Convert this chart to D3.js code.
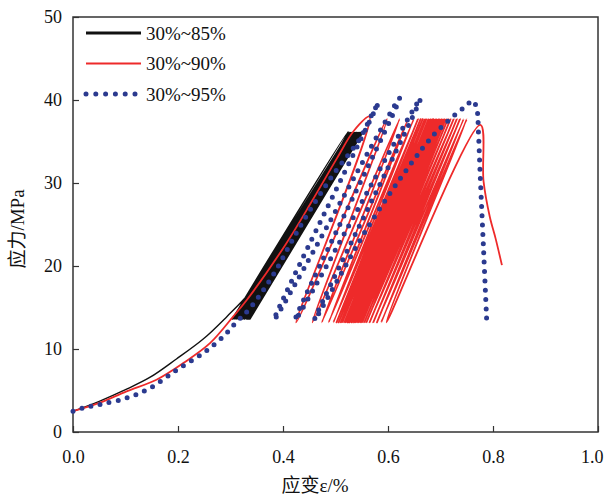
<!DOCTYPE html>
<html>
<head>
<meta charset="utf-8">
<script src="https://cdn.jsdelivr.net/npm/d3@7"></script>
<style>
    body { margin: 0; background: #fff; }
    text { font-family: "Liberation Serif", "Noto Sans CJK SC", serif; }
</style>
</head>
<body>
<svg id="chart"></svg>
<script>

// Axis ticks
const xTicks = [0, 0.2, 0.4, 0.6, 0.8, 1.0];
const yTicks = [0, 10, 20, 30, 40, 50];

// Series names (legend)
const seriesNames = ["30%~85%", "30%~90%", "30%~95%"];

// 30%~85% : first loading, then cycles between lower / upper stress
const blackLoad = [[0, 2.5], [0.05, 3.7], [0.1, 5.1], [0.147, 6.6], [0.197, 8.8], [0.248, 11.2],
    [0.293, 13.9], [0.337, 16.8], [0.4, 22.3], [0.451, 27.5], [0.496, 32.8], [0.524, 36.2]];
const blackValleys = [0.303, 0.305, 0.307, 0.308, 0.31, 0.312, 0.313, 0.315, 0.316, 0.318, 0.32, 0.321,
    0.323, 0.324, 0.326, 0.328, 0.329, 0.331, 0.332, 0.334, 0.336, 0.337];
const blackPeaks = [0.526, 0.527, 0.529, 0.53, 0.532, 0.533, 0.534, 0.536, 0.537, 0.538, 0.54, 0.541,
    0.542, 0.543, 0.545, 0.546, 0.547, 0.548, 0.549, 0.55, 0.551, 0.552];
const blackLow = 13.6;
const blackHigh = 36.1;

// 30%~90%
const redLoad = [[0, 2.5], [0.05, 3.5], [0.102, 4.9], [0.159, 6.3], [0.21, 8.3], [0.261, 10.7],
    [0.305, 13.9], [0.331, 15.9], [0.405, 22.6], [0.455, 27.8], [0.503, 33], [0.535, 36.3], [0.565, 38]];
const redValleys = [0.425, 0.456, 0.474, 0.487, 0.496, 0.502, 0.506, 0.51, 0.513, 0.517, 0.52, 0.523,
    0.526, 0.528, 0.531, 0.534, 0.537, 0.539, 0.542, 0.545, 0.548, 0.551, 0.555, 0.559, 0.565, 0.572,
    0.579, 0.587, 0.597];
const redPeaks = [0.598, 0.622, 0.638, 0.649, 0.657, 0.662, 0.666, 0.67, 0.673, 0.677, 0.68, 0.683,
    0.686, 0.689, 0.692, 0.695, 0.698, 0.701, 0.704, 0.707, 0.71, 0.714, 0.719, 0.725, 0.731, 0.737,
    0.744, 0.75];
const redLow = 13.2;
const redHigh = 37.7;
const redFail = [[0.776, 37.0], [0.782, 30.2], [0.794, 25.9], [0.805, 23.3], [0.817, 20.1]];

// 30%~95% (few cycles, read point by point)
const blueCurve = [[0, 2.5], [0.02, 2.9], [0.051, 3.3], [0.102, 4.1], [0.147, 5.3], [0.198, 7.5],
    [0.248, 9.5], [0.286, 11.5], [0.312, 13.3], [0.337, 14.9], [0.38, 18.8], [0.432, 24.7], [0.49, 30.5],
    [0.547, 35.4], [0.569, 38.2], [0.582, 39.7],
    [0.383, 13.5], [0.622, 40.2], [0.423, 13.5], [0.662, 40.2], [0.46, 13.5],
    [0.56, 24.5], [0.64, 32], [0.687, 35.8], [0.72, 37.8], [0.747, 39.2], [0.762, 39.9],
    [0.77, 38.6], [0.772, 36.5], [0.776, 30.4], [0.782, 22], [0.788, 13.4]];

const colors = ["#111111", "#ee2a2a", "#2b3a8f"];

const W = 604, H = 495;
const margin = {left: 73, right: 6, top: 17, bottom: 63};

const svg = d3.select("#chart").attr("width", W).attr("height", H);

const x = d3.scaleLinear().domain([0, 1]).range([margin.left, W - margin.right]);
const y = d3.scaleLinear().domain([0, 50]).range([H - margin.bottom, margin.top]);

// Build cyclic point sequences
function cycles(load, valleys, peaks, lo, hi, tail) {
    const pts = load.slice();
    valleys.forEach((v, i) => {
        pts.push([v, lo]);
        if (i < peaks.length) pts.push([peaks[i], hi]);
    });
    return tail ? pts.concat(tail) : pts;
}

const blackPts = cycles(blackLoad, blackValleys, blackPeaks, blackLow, blackHigh);
const redPts = cycles(redLoad, redValleys, redPeaks, redLow, redHigh, redFail);

const line = d3.line()
    .x(d => x(d[0]))
    .y(d => y(d[1]))
    .curve(d3.curveCatmullRom.alpha(0.5));

// Axes (ticks inside)
const xAxis = svg.append("g")
    .attr("transform", `translate(0,${y(0)})`)
    .call(d3.axisBottom(x).tickValues(xTicks).tickFormat(d3.format(".1f"))
        .tickSizeInner(-6).tickSizeOuter(0).tickPadding(18));
const yAxis = svg.append("g")
    .attr("transform", `translate(${x(0)},0)`)
    .call(d3.axisLeft(y).tickValues(yTicks).tickFormat(d3.format("d"))
        .tickSizeInner(-6).tickSizeOuter(0).tickPadding(11));

[xAxis, yAxis].forEach(g => {
    g.select(".domain").remove();
    g.selectAll("line").attr("stroke", "#333").attr("stroke-width", 1.2);
    g.selectAll("text").attr("font-size", 18).attr("fill", "#111")
        .style("font-family", "'Liberation Serif', serif");
});
// last x label sits against the right edge
xAxis.selectAll(".tick text").filter(d => d === 1).attr("text-anchor", "end").attr("x", 5);

// Frame
svg.append("rect")
    .attr("x", x(0)).attr("y", y(50))
    .attr("width", x(1) - x(0)).attr("height", y(0) - y(50))
    .attr("fill", "none").attr("stroke", "#333").attr("stroke-width", 1.5);

// Curves
svg.append("path").datum(blackPts)
    .attr("d", line).attr("fill", "none")
    .attr("stroke", colors[0]).attr("stroke-width", 1.4).attr("stroke-linejoin", "round");

svg.append("path").datum(redPts)
    .attr("d", line).attr("fill", "none")
    .attr("stroke", colors[1]).attr("stroke-width", 1.8).attr("stroke-linejoin", "round");

svg.append("path").datum(blueCurve)
    .attr("d", line).attr("fill", "none")
    .attr("stroke", colors[2]).attr("stroke-width", 5)
    .attr("stroke-linecap", "round").attr("stroke-dasharray", "0 9.3");

// Legend
const legend = svg.append("g").attr("transform", "translate(86,33)");
seriesNames.forEach((name, i) => {
    const gy = i * 30.5;
    const ln = legend.append("line")
        .attr("x1", 0).attr("x2", i === 2 ? 50 : 55)
        .attr("y1", gy).attr("y2", gy)
        .attr("stroke", colors[i]);
    if (i === 0) ln.attr("stroke-width", 3);
    if (i === 1) ln.attr("stroke-width", 2);
    if (i === 2) ln.attr("stroke-width", 5).attr("stroke-linecap", "round").attr("stroke-dasharray", "0 9.8");
    legend.append("text")
        .attr("x", 60).attr("y", gy).attr("dy", "0.35em")
        .attr("font-size", 19).attr("fill", "#111")
        .text(name);
});

// Axis titles
svg.append("text")
    .attr("x", 315).attr("y", 492)
    .attr("text-anchor", "middle").attr("font-size", 19).attr("fill", "#111")
    .text("应变ε/%");

svg.append("text")
    .attr("transform", "translate(24,229) rotate(-90)")
    .attr("text-anchor", "middle").attr("font-size", 19).attr("fill", "#111")
    .text("应力/MPa");

</script>
</body>
</html>
